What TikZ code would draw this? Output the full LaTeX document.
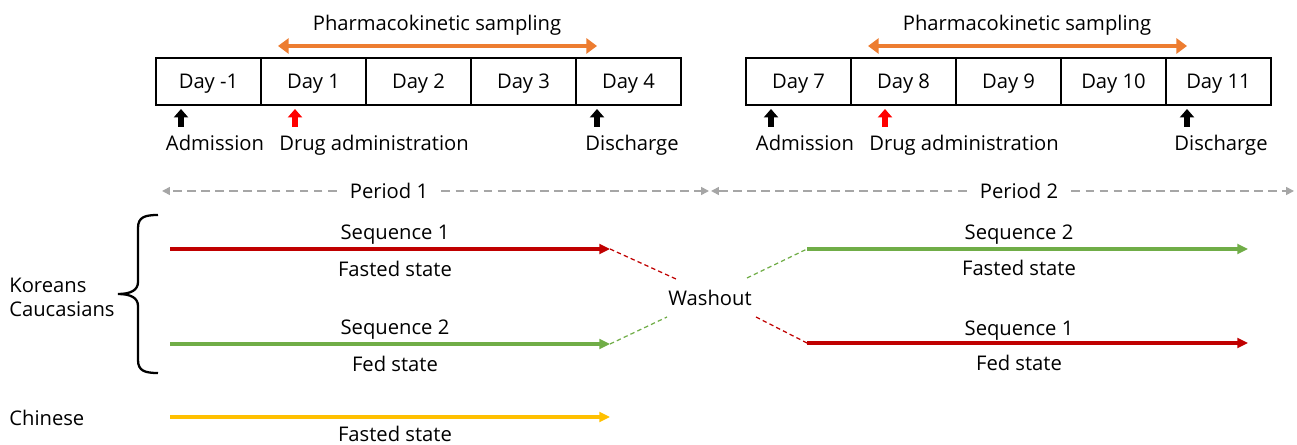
\documentclass[tikz,border=0pt]{standalone}
\usepackage{fontspec}
\setmainfont{Open Sans}
\usetikzlibrary{arrows.meta}
\definecolor{dred}{HTML}{C00000}
\definecolor{dgreen}{HTML}{70AD47}
\definecolor{dyellow}{HTML}{FFC000}
\definecolor{pkor}{HTML}{ED7D31}
\definecolor{pgray}{HTML}{A6A6A6}
\definecolor{bred}{HTML}{FF0000}
\begin{document}
\begin{tikzpicture}[x=0.02cm,y=-0.02cm,
  font=\fontsize{11.5}{13.5}\selectfont,
  day/.style={draw, line width=0.85pt, minimum width=2.1cm, minimum height=0.94cm,
    inner sep=0pt, outer sep=0pt, text depth=0pt},
  txt/.style={inner sep=0pt, text depth=0pt},
  pkarrow/.style={draw=pkor, line width=2.8pt,
    {Triangle[length=6pt,width=8.5pt]}-{Triangle[length=6pt,width=8.5pt]}},
  uparrow/.style={line width=3.8pt, -{Triangle[length=4.8pt,width=8pt]}},
  perline/.style={draw=pgray, line width=0.9pt, dash pattern=on 5pt off 3pt,
    -{Triangle[length=4.5pt,width=4.5pt]}},
  seqarrow/.style={line width=1.8pt, -{Triangle[length=6pt,width=5.5pt]}},
  washline/.style={line width=0.7pt, dash pattern=on 2.5pt off 1.8pt},
  pernode/.style={txt, inner xsep=0.26cm}
]
\useasboundingbox (0,0) rectangle (1297,445);

% ---------- Period 1 schedule ----------
\node[txt] (pk1) at (437,23) {Pharmacokinetic sampling};
\coordinate (pk1a) at (278,46);
\coordinate (pk1b) at (597,46);
\draw[pkarrow] (pk1a) -- (pk1b);

\node[day] (d1a) at (208.5,81.5) {Day -1};
\node[day] (d1b) at (313.5,81.5) {Day 1};
\node[day] (d1c) at (418.5,81.5) {Day 2};
\node[day] (d1d) at (523.5,81.5) {Day 3};
\node[day] (d1e) at (628.5,81.5) {Day 4};

\coordinate (u1s) at (181,127); \coordinate (u1e) at (181,109);
\coordinate (u2s) at (295,127); \coordinate (u2e) at (295,109);
\coordinate (u3s) at (597,127); \coordinate (u3e) at (597,109);
\draw[uparrow] (u1s) -- (u1e);
\draw[uparrow, bred] (u2s) -- (u2e);
\draw[uparrow] (u3s) -- (u3e);
\node[txt] (adm1) at (215,143) {Admission};
\node[txt] (drug1) at (374,143) {Drug administration};
\node[txt] (dis1) at (632,143) {Discharge};

% ---------- Period 2 schedule ----------
\node[txt] (pk2) at (1027,23) {Pharmacokinetic sampling};
\coordinate (pk2a) at (868,46);
\coordinate (pk2b) at (1187,46);
\draw[pkarrow] (pk2a) -- (pk2b);

\node[day] (d2a) at (798.5,81.5) {Day 7};
\node[day] (d2b) at (903.5,81.5) {Day 8};
\node[day] (d2c) at (1008.5,81.5) {Day 9};
\node[day] (d2d) at (1113.5,81.5) {Day 10};
\node[day] (d2e) at (1218.5,81.5) {Day 11};

\coordinate (v1s) at (771,127); \coordinate (v1e) at (771,109);
\coordinate (v2s) at (885,127); \coordinate (v2e) at (885,109);
\coordinate (v3s) at (1187,127); \coordinate (v3e) at (1187,109);
\draw[uparrow] (v1s) -- (v1e);
\draw[uparrow, bred] (v2s) -- (v2e);
\draw[uparrow] (v3s) -- (v3e);
\node[txt] (adm2) at (805,143) {Admission};
\node[txt] (drug2) at (964,143) {Drug administration};
\node[txt] (dis2) at (1221,143) {Discharge};

% ---------- Periods ----------
\node[pernode] (per1) at (389,191) {Period 1};
\node[pernode] (per2) at (1019,191) {Period 2};
\coordinate (p1l) at (162,191);
\coordinate (p1r) at (709,191);
\coordinate (p2l) at (711,191);
\coordinate (p2r) at (1294,191);
\draw[perline] (per1.west) -- (p1l);
\draw[perline] (per1.east) -- (p1r);
\draw[perline] (per2.west) -- (p2l);
\draw[perline] (per2.east) -- (p2r);

% ---------- Groups ----------
\node[txt, anchor=west, align=left] (kc) at (9,297) {Koreans\\Caucasians};
\node[txt, anchor=west] (chn) at (9,418) {Chinese};
\draw[line width=1.3pt]
  (158,215) .. controls (145,215) and (138,217) .. (138,228) -- (138,282)
  .. controls (138,290) and (131,294) .. (118,294)
  .. controls (131,294) and (138,298) .. (138,306) -- (138,360)
  .. controls (138,371) and (145,373) .. (158,373);

% ---------- Sequences, period 1 ----------
\coordinate (s1a) at (170,249); \coordinate (s1b) at (610,249);
\coordinate (s2a) at (170,344); \coordinate (s2b) at (610,344);
\coordinate (s3a) at (170,417); \coordinate (s3b) at (610,417);
\draw[seqarrow, dred] (s1a) -- (s1b);
\draw[seqarrow, dgreen] (s2a) -- (s2b);
\draw[seqarrow, dyellow] (s3a) -- (s3b);
\node[txt] (seq1l) at (395,232) {Sequence 1};
\node[txt] (fas1l) at (395,269) {Fasted state};
\node[txt] (seq2l) at (395,327) {Sequence 2};
\node[txt] (fed1l) at (395,364) {Fed state};
\node[txt] (fas3l) at (395,434) {Fasted state};

% ---------- Washout ----------
\node[txt] (wash) at (710,298) {Washout};
\coordinate (w1) at (676,279);
\coordinate (w2) at (667,317);
\coordinate (w3) at (747,278);
\coordinate (w4) at (756,317);
\coordinate (r1a) at (807,249); \coordinate (r1b) at (1248,249);
\coordinate (r2a) at (807,343); \coordinate (r2b) at (1248,343);
\draw[washline, dred] (s1b) -- (w1);
\draw[washline, dgreen] (s2b) -- (w2);
\draw[washline, dgreen] (w3) -- (r1a);
\draw[washline, dred] (w4) -- (r2a);

% ---------- Sequences, period 2 ----------
\draw[seqarrow, dgreen] (r1a) -- (r1b);
\draw[seqarrow, dred] (r2a) -- (r2b);
\node[txt] (seq2r) at (1019,232) {Sequence 2};
\node[txt] (fas2r) at (1019,268) {Fasted state};
\node[txt] (seq1r) at (1019,328) {Sequence 1};
\node[txt] (fed2r) at (1019,363) {Fed state};
\end{tikzpicture}
\end{document}
